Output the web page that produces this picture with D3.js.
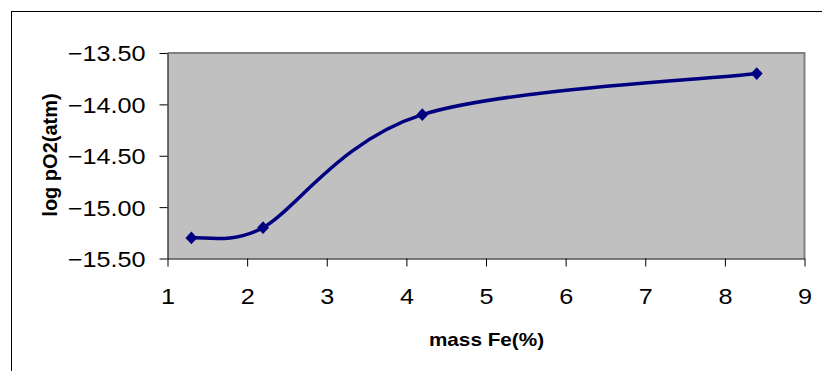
<!DOCTYPE html>
<html>
<head>
<meta charset="utf-8">
<script src="https://cdn.jsdelivr.net/npm/d3@7"></script>
<style>
  html, body { margin: 0; padding: 0; background: #fff; }
  svg { display: block; }
  text { font-family: "Liberation Sans", Arial, sans-serif; fill: #000; }
</style>
</head>
<body>
<svg id="chart" width="822" height="371"></svg>
<script>
// Oxygen partial pressure versus iron content
const massFe = [1.3, 2.2, 4.2, 8.4];
const logPO2 = [-15.30, -15.20, -14.10, -13.70];
const xTicks = [1, 2, 3, 4, 5, 6, 7, 8, 9];
const yTicks = [-13.5, -14.0, -14.5, -15.0, -15.5];
const xTitle = "mass Fe(%)";
const yTitle = "log pO2(atm)";

const svg = d3.select("#chart");
const plot = { left: 167.5, right: 804.5, top: 53, bottom: 258.5 };
const stretch = 1.12; // horizontal widening of the label glyphs

const x = d3.scaleLinear().domain([1, 9]).range([plot.left, plot.right]);
const y = d3.scaleLinear().domain([-15.5, -13.5]).range([plot.bottom, plot.top]);

// outer chart frame
svg.append("rect")
  .attr("x", 11.5).attr("y", 11.5)
  .attr("width", 840).attr("height", 400)
  .attr("fill", "none").attr("stroke", "#000").attr("stroke-width", 1);

// plot area
svg.append("rect")
  .attr("x", plot.left).attr("y", plot.top)
  .attr("width", plot.right - plot.left).attr("height", plot.bottom - plot.top)
  .attr("fill", "#c0c0c0");
svg.append("path")
  .attr("d", `M${plot.left},${plot.top}H${plot.right}V${plot.bottom}`)
  .attr("fill", "none").attr("stroke", "#808080").attr("stroke-width", 2);

function widen(sel) {
  sel.each(function () {
    const len = this.getComputedTextLength();
    d3.select(this).attr("textLength", len * stretch).attr("lengthAdjust", "spacingAndGlyphs");
  });
}

// y axis
const yAxis = svg.append("g")
  .attr("transform", `translate(${plot.left},0)`)
  .call(d3.axisLeft(y).tickValues(yTicks).tickFormat(d3.format(".2f"))
    .tickSize(8).tickPadding(14).tickSizeOuter(0));
yAxis.select(".domain").attr("stroke", "#000");
yAxis.selectAll(".tick line").attr("stroke", "#000");
yAxis.selectAll("text")
  .attr("font-size", 22.5).attr("font-family", "Liberation Sans, Arial, sans-serif")
  .attr("fill", "#000").attr("dy", "0.35em")
  .call(widen);

// x axis
const xAxis = svg.append("g")
  .attr("transform", `translate(0,${plot.bottom})`)
  .call(d3.axisBottom(x).tickValues(xTicks).tickFormat(d3.format("d"))
    .tickSize(8).tickPadding(22).tickSizeOuter(0));
xAxis.select(".domain").attr("stroke", "#000");
xAxis.selectAll(".tick line").attr("stroke", "#000");
xAxis.selectAll("text")
  .attr("font-size", 22.5).attr("font-family", "Liberation Sans, Arial, sans-serif")
  .attr("fill", "#000")
  .call(widen);

// axis titles
svg.append("text")
  .attr("x", (plot.left + plot.right) / 2 + 0.5).attr("y", 345.5)
  .attr("text-anchor", "middle").attr("font-weight", "bold").attr("font-size", 18.5)
  .text(xTitle).call(widen);

svg.append("text")
  .attr("transform", "translate(56.5,155) rotate(-90)")
  .attr("text-anchor", "middle").attr("font-weight", "bold").attr("font-size", 20)
  .text(yTitle);

// smoothed series line: cubic Bezier through the points, with the tangent
// handles shortened where a neighbouring segment is short
const pts = massFe.map((m, i) => [m, logPO2[i]]);
const px = pts.map(d => [x(d[0]), y(d[1])]);

function smoothPath(p) {
  const n = p.length;
  const dist = (a, b) => Math.hypot(b[0] - a[0], b[1] - a[1]);
  const tan = p.map((pt, i) => {
    const a = p[Math.max(0, i - 1)], b = p[Math.min(n - 1, i + 1)];
    const t = [b[0] - a[0], b[1] - a[1]];
    const d = Math.hypot(t[0], t[1]);
    let f = 1 / 6;
    if (i > 0 && i < n - 1) {
      const lim = Math.min(dist(p[i - 1], pt), dist(pt, p[i + 1])) / 2;
      if (d * f > lim) f = lim / d;
    }
    return [t[0] * f, t[1] * f];
  });
  const path = d3.path();
  path.moveTo(p[0][0], p[0][1]);
  for (let i = 0; i < n - 1; i++) {
    path.bezierCurveTo(
      p[i][0] + tan[i][0], p[i][1] + tan[i][1],
      p[i + 1][0] - tan[i + 1][0], p[i + 1][1] - tan[i + 1][1],
      p[i + 1][0], p[i + 1][1]);
  }
  return path.toString();
}

svg.append("path")
  .attr("d", smoothPath(px))
  .attr("fill", "none").attr("stroke", "#000080").attr("stroke-width", 3.5)
  .attr("stroke-linejoin", "round");

// diamond markers
const diamond = d3.symbol().type(d3.symbolDiamond2).size(90);
svg.selectAll(".marker")
  .data(pts).enter().append("path")
  .attr("class", "marker")
  .attr("transform", d => `translate(${x(d[0])},${y(d[1])}) scale(1,1.08)`)
  .attr("d", diamond)
  .attr("fill", "#000080");
</script>
</body>
</html>
